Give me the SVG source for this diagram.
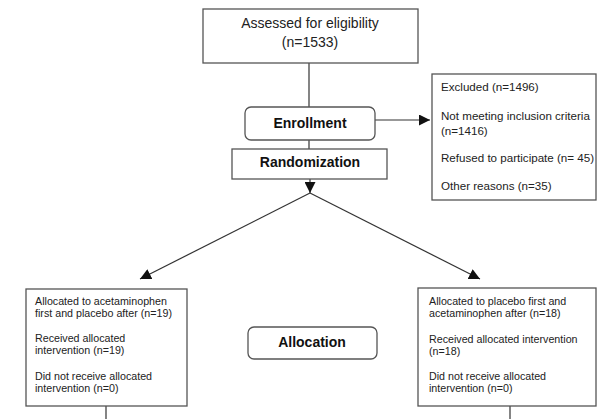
<svg xmlns="http://www.w3.org/2000/svg" width="598" height="419" viewBox="0 0 598 419">
<defs>
<style>
.box{fill:#fff;stroke:#555;stroke-width:1.3}
.ln{fill:none;stroke:#333;stroke-width:1.2}
.t{font-family:"Liberation Sans",Arial,sans-serif;fill:#222}
.b{font-weight:bold;font-size:14px;text-anchor:middle;fill:#111}
.s12{font-size:11.6px}
.s11{font-size:10.7px}
</style>
<marker id="ah" viewBox="0 0 10 10" refX="10" refY="5" markerWidth="11" markerHeight="11" markerUnits="userSpaceOnUse" orient="auto">
<path d="M0,0 L10,5 L0,10 z" fill="#111"/>
</marker>
</defs>
<rect width="598" height="419" fill="#fff"/>
<g id="connectors">
<line class="ln" x1="309" y1="63" x2="309" y2="107"/>
<line class="ln" x1="309" y1="140" x2="309" y2="149"/>
<line class="ln" x1="375" y1="120" x2="430" y2="120" marker-end="url(#ah)"/>
<line class="ln" x1="310" y1="179" x2="310" y2="193" marker-end="url(#ah)"/>
<line class="ln" x1="310" y1="193" x2="140" y2="279" marker-end="url(#ah)"/>
<line class="ln" x1="310" y1="193" x2="480" y2="279" marker-end="url(#ah)"/>
<line class="ln" x1="106" y1="406" x2="106" y2="419"/>
<line class="ln" x1="510" y1="406" x2="510" y2="419"/>
</g>
<g id="assessed">
<rect class="box" x="203" y="9" width="215" height="54"/>
<text class="t" x="310" y="28" font-size="14" text-anchor="middle">Assessed for eligibility</text>
<text class="t" x="310" y="47" font-size="14" text-anchor="middle">(n=1533)</text>
</g>
<g id="enrollment">
<rect class="box" x="245" y="107" width="130" height="33" rx="6"/>
<text class="t b" x="310" y="128">Enrollment</text>
</g>
<g id="randomization">
<rect class="box" x="232" y="149" width="155" height="30"/>
<text class="t b" x="310" y="167">Randomization</text>
</g>
<g id="excluded">
<rect class="box" x="432" y="74" width="164" height="126"/>
<text class="t s12" x="441" y="91">Excluded (n=1496)</text>
<text class="t s12" x="441" y="120">Not meeting inclusion criteria</text>
<text class="t s12" x="441" y="135">(n=1416)</text>
<text class="t s12" x="441" y="162">Refused to participate (n= 45)</text>
<text class="t s12" x="441" y="190">Other reasons (n=35)</text>
</g>
<g id="left-arm">
<rect class="box" x="26" y="289" width="161" height="117"/>
<text class="t s11" x="35" y="305">Allocated to acetaminophen</text>
<text class="t s11" x="35" y="317">first and placebo after (n=19)</text>
<text class="t s11" x="35" y="342">Received allocated</text>
<text class="t s11" x="35" y="354">intervention (n=19)</text>
<text class="t s11" x="35" y="380">Did not receive allocated</text>
<text class="t s11" x="35" y="392">intervention (n=0)</text>
</g>
<g id="allocation">
<rect class="box" x="248" y="327" width="129" height="32" rx="6"/>
<text class="t b" x="312" y="347">Allocation</text>
</g>
<g id="right-arm">
<rect class="box" x="418" y="288" width="178" height="118"/>
<text class="t s11" x="429" y="305">Allocated to placebo first and</text>
<text class="t s11" x="429" y="317">acetaminophen after (n=18)</text>
<text class="t s11" x="429" y="343">Received allocated intervention</text>
<text class="t s11" x="429" y="355">(n=18)</text>
<text class="t s11" x="429" y="380">Did not receive allocated</text>
<text class="t s11" x="429" y="392">intervention (n=0)</text>
</g>
</svg>
